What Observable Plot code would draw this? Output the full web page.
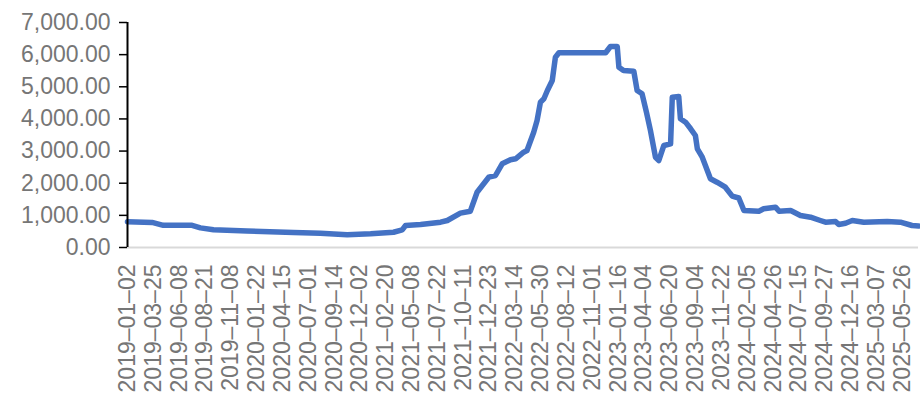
<!DOCTYPE html>
<html>
<head>
<meta charset="utf-8">
<script src="https://cdn.jsdelivr.net/npm/d3@7"></script>
<script src="https://cdn.jsdelivr.net/npm/@observablehq/plot@0.6"></script>
<style>
  html, body { margin: 0; padding: 0; background: #fff; }
  #chart { width: 920px; height: 402px; overflow: hidden; }
</style>
</head>
<body>
<div id="chart"></div>
<script>
// Category-axis tick labels (shown every N points in the original)
const tickLabels = [
  "2019-01-02","2019-03-25","2019-06-08","2019-08-21","2019-11-08",
  "2020-01-22","2020-04-15","2020-07-01","2020-09-14","2020-12-02",
  "2021-02-20","2021-05-08","2021-07-22","2021-10-11","2021-12-23",
  "2022-03-14","2022-05-30","2022-08-12","2022-11-01","2023-01-16",
  "2023-04-04","2023-06-20","2023-09-04","2023-11-22","2024-02-05",
  "2024-04-26","2024-07-15","2024-09-27","2024-12-16","2025-03-07",
  "2025-05-26"
];

// Series
const dates = [
  "2019-01-02","2019-03-21","2019-04-23","2019-07-15","2019-08-08","2019-09-16",
  "2019-12-25","2020-05-18","2020-08-05","2020-10-24","2021-01-04","2021-03-15",
  "2021-04-10","2021-04-20","2021-06-03","2021-08-01","2021-08-22","2021-10-02",
  "2021-10-31","2021-11-19","2021-12-22","2022-01-12","2022-02-02","2022-02-28",
  "2022-03-16","2022-04-09","2022-04-19","2022-05-09","2022-05-19","2022-05-29",
  "2022-06-08","2022-06-18","2022-07-02","2022-07-11","2022-07-21","2022-12-10",
  "2022-12-24","2023-01-13","2023-01-18","2023-02-01","2023-03-04","2023-03-14",
  "2023-03-29","2023-04-11","2023-04-23","2023-05-08","2023-05-18","2023-06-02",
  "2023-06-22","2023-06-27","2023-07-16","2023-07-21","2023-08-05","2023-08-20",
  "2023-09-03","2023-09-09","2023-09-24","2023-10-19","2023-11-08","2023-12-03",
  "2023-12-23","2024-01-11","2024-01-26","2024-03-12","2024-03-27","2024-05-03",
  "2024-05-14","2024-06-19","2024-07-19","2024-08-17","2024-09-14","2024-09-29",
  "2024-10-30","2024-11-09","2024-11-30","2024-12-21","2025-01-26","2025-04-09",
  "2025-05-20","2025-06-25","2025-07-15"
];
const values = [
  800, 780, 690, 690, 610, 550,
  510, 470, 445, 395, 425, 475,
  550, 685, 715, 787, 840, 1068,
  1130, 1720, 2187, 2240, 2603, 2728,
  2760, 2966, 3018, 3587, 3951, 4521,
  4627, 4885, 5196, 5921, 6058, 6058,
  6254, 6254, 5610, 5507, 5486, 4885,
  4782, 4210, 3640, 2810, 2707, 3174,
  3226, 4676, 4698, 4004, 3899, 3693,
  3485, 3071, 2810, 2137, 2032, 1876,
  1600, 1540, 1151, 1130, 1204, 1254,
  1130, 1151, 996, 943, 840, 787,
  809, 716, 756, 840, 787, 809,
  787, 685, 670
];

const yTicks = [0, 1000, 2000, 3000, 4000, 5000, 6000, 7000];

// Category axis: map dates to positions along the evenly spaced category axis
const toPos = d3.scaleUtc()
  .domain(tickLabels.map(d => new Date(d)))
  .range(d3.range(tickLabels.length));

const data = dates.map((d, i) => ({x: toPos(new Date(d)), y: values[i]}));
const xMax = toPos(new Date(dates[dates.length - 1]));

const chart = Plot.plot({
  width: 920,
  height: 402,
  marginLeft: 127,
  marginRight: 2,
  marginTop: 22,
  marginBottom: 155,
  style: {fontFamily: "'Liberation Sans', Arial, sans-serif", fontSize: "23px", background: "#fff", overflow: "hidden"},
  x: {domain: [0, xMax]},
  y: {domain: [0, 7000]},
  marks: [
    Plot.ruleY([0], {stroke: "#d9d9d9", strokeWidth: 2}),
    Plot.line(data, {x: "x", y: "y", stroke: "#4472C4", strokeWidth: 5.5, strokeLinejoin: "round", strokeLinecap: "round"}),
    Plot.axisX({
      ticks: d3.range(tickLabels.length),
      tickFormat: i => tickLabels[i].replace(/-/g, "\u2013"),
      tickSize: 0, tickPadding: 17, tickRotate: -90,
      fill: "#767676", fontSize: 23, label: null
    }),
    Plot.axisY({
      ticks: yTicks,
      tickFormat: d3.format(",.2f"),
      tickSize: 8, tickPadding: 9,
      stroke: "black", strokeWidth: 1.5,
      fill: "#767676", fontSize: 23, label: null
    }),
    Plot.ruleX([0], {stroke: "black", strokeWidth: 2})
  ]
});
document.getElementById("chart").appendChild(chart);
</script>
</body>
</html>
